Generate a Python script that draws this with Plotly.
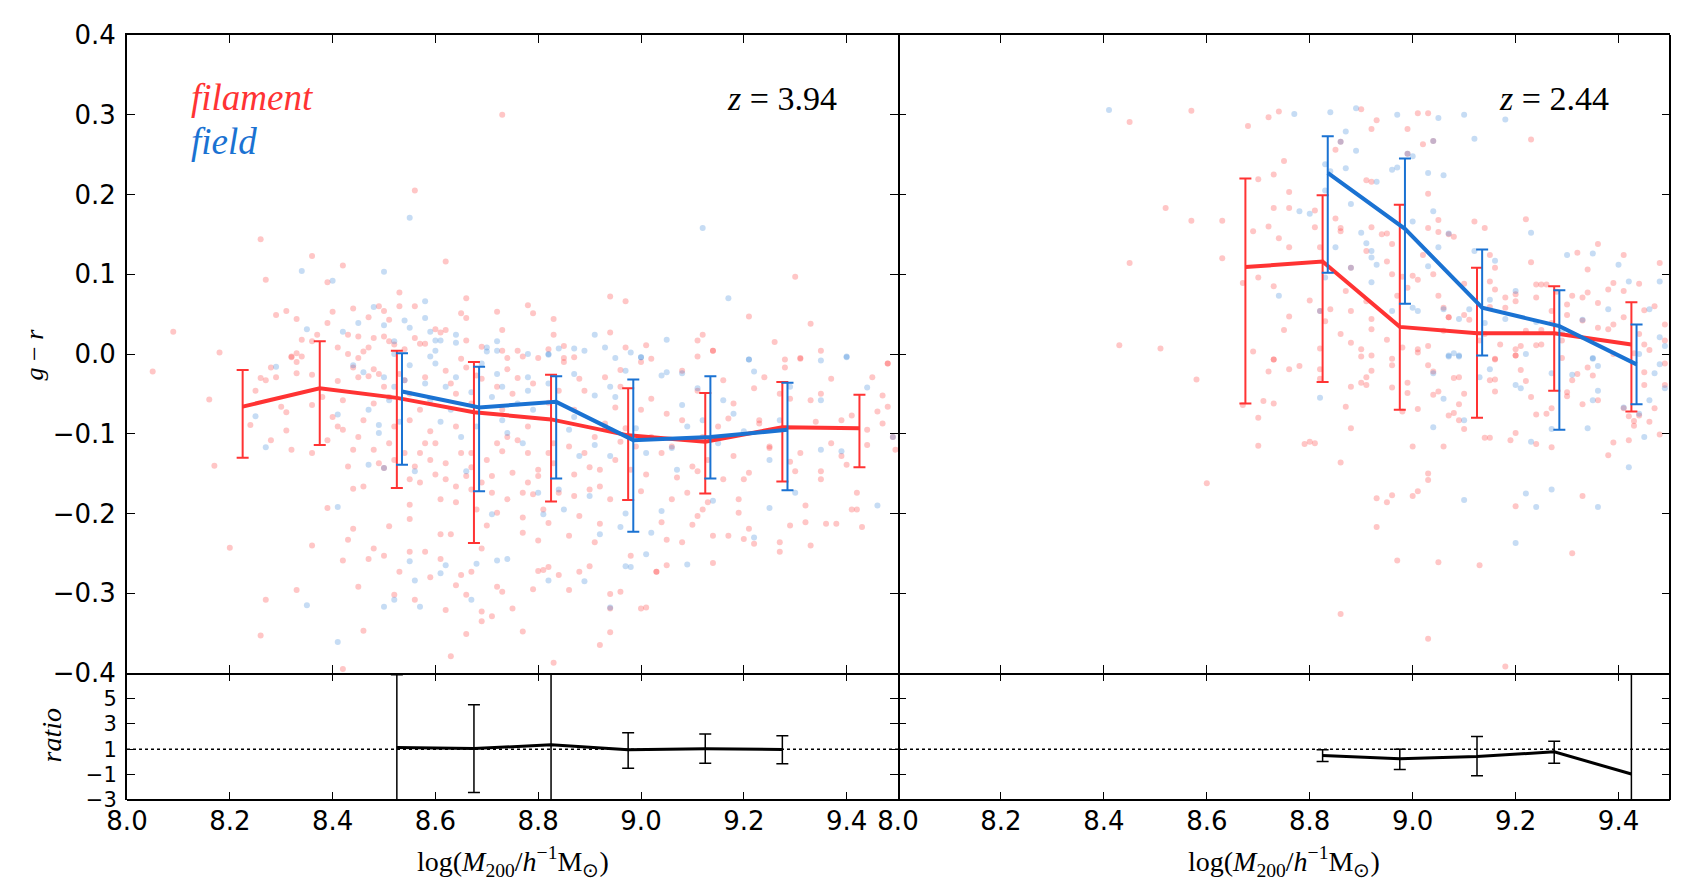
import plotly.graph_objects as go

# ---------------- binned statistics ----------------
mass_bins = [8.225, 8.375, 8.525, 8.675, 8.825, 8.975, 9.125, 9.275, 9.425]

# z = 3.94 (left)
fil394_mean = [-0.066, -0.043, -0.055, -0.073, -0.082, -0.102, -0.110, -0.092, -0.093]
fil394_hi = [-0.020, 0.016, 0.004, -0.010, -0.026, -0.043, -0.049, -0.035, -0.051]
fil394_lo = [-0.130, -0.114, -0.168, -0.237, -0.185, -0.183, -0.175, -0.160, -0.142]
fld394_bins = [8.535, 8.685, 8.835, 8.985, 9.135, 9.285]
fld394_mean = [-0.047, -0.067, -0.060, -0.108, -0.104, -0.095]
fld394_hi = [0.001, -0.016, -0.028, -0.032, -0.028, -0.036]
fld394_lo = [-0.139, -0.172, -0.156, -0.223, -0.156, -0.171]

# z = 2.44 (right)
fil244_bins = [8.675, 8.825, 8.975, 9.125, 9.275, 9.425]
fil244_mean = [0.109, 0.116, 0.034, 0.026, 0.026, 0.012]
fil244_hi = [0.220, 0.199, 0.187, 0.108, 0.085, 0.065]
fil244_lo = [-0.062, -0.035, -0.070, -0.080, -0.046, -0.072]
fld244_bins = [8.835, 8.985, 9.135, 9.285, 9.435]
fld244_mean = [0.227, 0.157, 0.058, 0.035, -0.013]
fld244_hi = [0.273, 0.245, 0.131, 0.080, 0.037]
fld244_lo = [0.102, 0.063, -0.002, -0.095, -0.063]

# ratio panels
ratio394_x = [8.525, 8.675, 8.825, 8.975, 9.125, 9.275]
ratio394 = [1.13, 1.05, 1.34, 0.95, 1.03, 0.98]
ratio394_hi = [6.87, 4.5, 40.0, 2.3, 2.2, 2.05]
ratio394_lo = [-40.0, -2.4, -40.0, -0.5, -0.1, -0.15]
ratio244_x = [8.825, 8.975, 9.125, 9.275, 9.425]
ratio244 = [0.50, 0.24, 0.42, 0.79, -0.95]
ratio244_hi = [0.95, 1.0, 2.0, 1.63, 40.0]
ratio244_lo = [0.04, -0.6, -1.1, -0.1, -40.0]

# ---------------- individual haloes ----------------
fil394_pts = [
(8.09,0.028),(8.18,0.002),(8.26,0.144),(8.27,0.093),(8.29,0.049),(8.31,0.054),(8.33,0.044),(8.36,0.123),
(8.39,0.090),(8.42,0.111),(8.40,0.053),(8.39,0.039),(8.34,0.018),(8.37,0.024),(8.36,0.016),(8.41,0.008),
(8.33,0.001),(8.32,-0.003),(8.44,0.057),(8.47,0.046),(8.49,0.060),(8.50,0.054),(8.51,0.043),(8.53,0.060),
(8.53,0.077),(8.56,0.060),(8.56,0.205),(8.62,0.116),(8.73,0.300),(8.66,0.070),(8.65,0.051),(8.66,0.045),
(8.72,0.053),(8.73,0.030),(8.78,0.061),(8.79,0.051),(8.83,0.044),(8.83,0.024),(8.94,0.072),(8.97,0.066),
(8.94,0.027),(8.97,0.008),(9.01,0.011),(9.02,-0.006),(9.11,0.017),(9.12,0.024),(9.14,0.004),(9.21,0.047),
(9.26,0.015),(9.30,0.097),(9.33,0.038),(9.35,0.004),(9.31,-0.005),(9.28,-0.007),(8.87,-0.004),(8.85,-0.005),
(8.82,0.006),(8.85,0.010),(8.80,-0.005),(8.77,-0.003),(8.76,0.004),(8.74,-0.005),(8.73,0.004),(8.69,0.009),
(8.66,0.017),(8.65,-0.006),(8.61,0.027),(8.60,0.031),(8.58,0.013),(8.56,0.020),(8.54,0.006),(8.52,0.012),
(8.50,0.022),(8.48,0.020),(8.47,0.008),(8.46,0.003),(8.45,-0.005),(8.43,0.024),(8.45,0.022),(8.51,0.016),
(8.57,0.013),(8.62,0.030),(9.11,-0.003),(9.48,-0.012),
(8.05,-0.022),(8.16,-0.057),(8.17,-0.140),(8.20,-0.243),(8.24,-0.089),(8.25,-0.046),(8.26,-0.030),
(8.28,-0.017),(8.28,-0.108),(8.27,-0.033),(8.29,-0.029),(8.30,-0.066),(8.31,-0.096),(8.32,-0.120),(8.31,-0.073),
(8.32,-0.004),(8.33,-0.010),(8.33,-0.024),(8.34,-0.003),(8.36,-0.026),(8.36,-0.064),(8.36,-0.124),(8.39,-0.193),
(8.36,-0.240),(8.33,-0.296),(8.27,-0.308),(8.26,-0.353),(8.41,-0.034),(8.42,-0.058),(8.42,-0.095),(8.43,0.000),
(8.44,-0.017),(8.45,-0.029),(8.44,-0.169),(8.46,-0.166),(8.47,-0.028),(8.48,-0.019),(8.48,-0.062),(8.49,-0.025),
(8.50,-0.041),(8.51,-0.054),(8.51,-0.216),(8.52,-0.091),(8.53,-0.025),(8.54,-0.033),(8.55,-0.050),(8.55,-0.083),
(8.55,-0.189),(8.55,-0.207),(8.55,-0.248),(8.57,-0.124),(8.57,-0.070),(8.58,-0.029),(8.59,-0.097),(8.60,-0.112),
(8.61,-0.226),(8.62,-0.137),(8.62,-0.021),(8.63,-0.037),(8.63,-0.226),(8.64,-0.050),(8.64,-0.091),(8.65,-0.124),
(8.66,-0.017),(8.67,-0.170),(8.67,-0.142),(8.67,-0.062),(8.68,-0.027),(8.69,-0.244),(8.69,-0.031),(8.70,-0.133),
(8.71,-0.174),(8.72,-0.112),(8.72,-0.041),(8.73,-0.070),(8.74,-0.182),(8.74,-0.019),(8.75,-0.050),(8.76,-0.030),
(8.77,-0.224),(8.77,-0.205),(8.78,-0.161),(8.78,-0.091),(8.79,-0.037),(8.80,-0.153),(8.80,-0.234),(8.81,-0.271),
(8.82,-0.061),(8.82,-0.124),(8.82,-0.212),(8.83,-0.387),(8.84,-0.046),(8.85,-0.010),(8.86,-0.116),(8.87,-0.070),
(8.87,-0.178),(8.88,-0.031),(8.89,-0.046),(8.90,-0.142),(8.91,-0.104),(8.92,-0.213),(8.92,-0.166),(8.93,-0.029),
(8.94,-0.301),(8.94,-0.349),(8.95,-0.067),(8.96,-0.041),(8.96,-0.020),(8.97,-0.093),(8.99,-0.116),(9.00,-0.010),
(9.01,-0.151),(9.02,-0.056),(9.03,-0.273),(9.04,-0.211),(9.05,-0.075),(9.05,-0.233),(9.06,-0.116),(9.08,-0.021),
(9.09,-0.174),(9.10,-0.214),(9.10,-0.141),(9.11,-0.046),(9.12,-0.104),(9.13,-0.186),(9.14,0.004),(9.14,-0.262),
(9.16,-0.033),(9.17,-0.081),(9.18,-0.062),(9.19,-0.199),(9.20,-0.157),(9.21,-0.219),(9.22,-0.043),(9.23,-0.083),
(9.24,-0.029),(9.25,-0.118),(9.27,-0.236),(9.28,-0.017),(9.29,-0.056),(9.31,-0.006),(9.31,-0.124),(9.32,-0.211),
(9.33,-0.240),(9.34,-0.085),(9.35,-0.147),(9.35,-0.050),(9.37,-0.112),(9.38,-0.213),(9.39,-0.083),(9.40,-0.139),
(9.41,-0.077),(9.42,-0.174),(9.43,-0.217),(9.44,-0.095),(9.45,-0.029),(9.47,-0.052),(9.47,-0.087),(9.48,-0.012),
(9.49,-0.104),(9.495,-0.120),(9.48,-0.066),(9.46,-0.072),(9.44,-0.114),(9.39,-0.128),(9.37,-0.031),(9.35,-0.157),
(9.33,-0.058),(9.32,-0.190),(9.30,-0.147),(9.29,-0.135),(9.27,-0.050),(9.25,-0.116),(9.23,-0.087),(9.21,-0.149),
(9.19,-0.182),(9.18,-0.128),(9.16,-0.157),(9.15,-0.091),(9.13,-0.133),(9.12,-0.195),(9.11,-0.147),(9.08,-0.083),
(9.07,-0.155),(9.06,-0.182),(9.04,-0.124),(9.02,-0.104),(9.00,-0.070),(9.00,-0.172),(8.98,-0.145),(8.96,-0.110),
(8.95,-0.133),(8.94,-0.182),(8.93,-0.087),(8.92,-0.145),(8.91,-0.236),(8.90,-0.170),(8.89,-0.124),(8.88,-0.203),
(8.87,-0.151),(8.86,-0.228),(8.84,-0.174),(8.83,-0.112),(8.83,-0.137),(8.81,-0.195),(8.80,-0.145),(8.79,-0.176),
(8.78,-0.124),(8.77,-0.174),(8.76,-0.108),(8.75,-0.149),(8.74,-0.104),(8.73,-0.122),(8.72,-0.199),(8.71,-0.153),
(8.70,-0.215),(8.69,-0.161),(8.68,-0.195),(8.67,-0.124),(8.66,-0.153),(8.64,-0.186),(8.64,-0.166),(8.62,-0.157),
(8.61,-0.182),(8.60,-0.151),(8.59,-0.133),(8.58,-0.112),(8.57,-0.161),(8.56,-0.141),(8.55,-0.157),(8.54,-0.124),
(8.52,-0.133),(8.51,-0.112),(8.50,-0.143),(8.49,-0.137),(8.48,-0.120),(8.46,-0.083),(8.45,-0.104),(8.44,-0.120),
(8.43,-0.141),(8.41,-0.091),(8.40,-0.079),(8.39,-0.108),(8.38,-0.054),(8.44,-0.219),(8.47,-0.257),(8.48,-0.244),
(8.50,-0.253),(8.52,-0.302),(8.53,-0.273),(8.56,-0.308),(8.58,-0.248),(8.59,-0.280),(8.61,-0.257),(8.62,-0.321),
(8.64,-0.290),(8.65,-0.277),(8.66,-0.302),(8.67,-0.273),(8.69,-0.323),(8.69,-0.335),(8.71,-0.329),(8.72,-0.292),
(8.73,-0.298),(8.75,-0.319),(8.77,-0.348),(8.79,-0.295),(8.80,-0.272),(8.82,-0.267),(8.84,-0.277),(8.86,-0.296),
(8.88,-0.273),(8.90,-0.266),(8.92,-0.365),(8.94,-0.319),(8.96,-0.298),(8.98,-0.253),(9.00,-0.319),(9.01,-0.318),
(9.03,-0.273),(9.05,-0.265),(9.08,-0.236),(9.11,-0.203),(9.14,-0.228),(9.17,-0.228),(9.20,-0.232),(9.22,-0.238),
(9.27,-0.248),(9.29,-0.215),(9.36,-0.213),(9.41,-0.195),(9.42,-0.195),(8.63,-0.379),(8.66,-0.351),(8.42,-0.395),
(8.46,-0.347),(8.45,-0.292),(8.42,-0.259),(8.43,-0.233),
]

fld394_pts = [
(8.34,0.104),(8.40,0.092),(8.50,0.103),(8.55,0.171),(9.12,0.158),(9.17,0.070),(8.58,0.066),(8.48,0.059),
(8.54,0.042),(8.58,0.045),(8.50,0.036),(8.55,0.033),(8.59,0.028),(8.64,0.024),(8.60,0.017),(8.61,0.017),
(8.45,0.039),(8.42,0.028),(8.35,0.031),(8.52,0.016),(8.52,0.000),(8.60,0.004),(8.59,-0.003),(8.64,0.014),
(8.72,0.016),(8.70,0.003),(8.72,0.004),(8.78,0.000),(8.82,-0.001),(8.84,0.007),(8.87,0.007),(8.89,0.004),
(8.91,0.024),(8.93,0.008),(8.95,-0.005),(8.98,0.002),(9.00,-0.004),(9.05,0.018),(9.21,-0.007),(9.35,-0.008),
(9.40,-0.004),(8.70,0.008),
(8.27,-0.117),(8.29,-0.016),(8.25,-0.078),(8.41,-0.076),(8.41,-0.192),(8.41,-0.361),(8.35,-0.315),(8.44,-0.014),
(8.46,-0.023),(8.47,-0.070),(8.47,-0.139),(8.49,-0.099),(8.49,-0.089),(8.50,-0.029),(8.51,-0.058),(8.50,-0.143),
(8.52,-0.041),(8.53,-0.085),(8.54,-0.033),(8.55,-0.014),(8.56,-0.147),(8.58,-0.037),(8.59,-0.058),(8.60,-0.012),
(8.61,-0.085),(8.62,-0.041),(8.63,-0.070),(8.64,-0.029),(8.65,-0.104),(8.66,-0.147),(8.67,-0.048),(8.68,-0.091),
(8.69,-0.012),(8.71,-0.054),(8.71,-0.201),(8.72,-0.025),(8.73,-0.083),(8.73,-0.041),(8.74,-0.099),(8.76,-0.062),
(8.77,-0.112),(8.78,-0.029),(8.78,-0.046),(8.79,-0.070),(8.80,-0.174),(8.81,-0.201),(8.82,0.000),(8.82,-0.037),
(8.84,-0.170),(8.85,-0.195),(8.86,-0.095),(8.87,-0.025),(8.88,-0.128),(8.90,-0.178),(8.91,-0.052),(8.92,-0.226),
(8.93,-0.091),(8.94,-0.041),(8.95,-0.054),(8.96,-0.217),(8.97,-0.200),(8.97,-0.021),(8.98,-0.267),(9.00,-0.004),
(9.01,-0.251),(9.01,-0.124),(9.02,-0.224),(9.04,-0.027),(9.04,-0.197),(9.05,-0.023),(9.06,-0.118),(9.08,-0.024),
(9.08,-0.064),(9.09,-0.264),(9.11,-0.043),(9.12,-0.083),(9.14,-0.184),(9.15,-0.112),(9.16,-0.058),(9.18,-0.075),
(9.21,-0.007),(9.22,-0.230),(9.22,-0.022),(9.25,-0.193),(9.25,-0.133),(9.27,-0.083),(9.29,-0.041),(9.30,-0.174),
(9.35,-0.058),(9.40,-0.003),(9.44,-0.042),(9.46,-0.190),(9.49,-0.104),(8.55,-0.260),(8.56,-0.284),(8.57,-0.317),
(8.52,-0.308),(8.50,-0.317),(8.61,-0.275),(8.62,-0.265),(8.67,-0.308),(8.68,-0.263),(8.72,-0.259),(8.74,-0.257),
(8.82,-0.284),(8.89,-0.285),(8.94,-0.318),(8.97,-0.266),(8.87,-0.079),(8.91,-0.114),(8.94,-0.128),(8.99,-0.093),
(9.07,-0.145),(9.09,-0.091),(9.20,-0.097),(9.35,-0.120),(9.39,-0.122),
]

fil244_pts = [
(8.45,0.291),(8.57,0.305),(8.68,0.286),(8.72,0.297),(8.74,0.304),(8.90,0.307),(8.93,0.293),(8.99,0.282),
(9.01,0.302),(9.03,0.302),(9.02,0.263),(9.04,0.267),(8.99,0.251),(8.92,0.282),(8.86,0.266),(8.85,0.256),
(8.75,0.242),(8.73,0.225),(8.70,0.219),(8.76,0.203),(8.73,0.183),(8.76,0.183),(8.72,0.160),(8.69,0.154),
(8.74,0.145),(8.76,0.134),(8.52,0.183),(8.57,0.167),(8.63,0.167),(8.63,0.120),(8.45,0.114),(8.43,0.011),
(8.51,0.007),(8.67,0.089),(8.70,0.096),(8.73,0.085),(8.80,0.067),(8.82,0.054),(8.81,0.159),(8.82,0.134),
(8.81,0.180),(8.85,0.170),(8.86,0.158),(8.86,0.154),(8.91,0.218),(8.92,0.216),(8.92,0.159),(8.94,0.150),
(8.95,0.151),(8.96,0.138),(8.91,0.129),(8.88,0.108),(8.95,0.116),(8.96,0.100),(8.98,0.097),(8.99,0.083),
(9.01,0.093),(9.03,0.201),(9.03,0.158),(9.05,0.168),(9.05,0.153),(9.07,0.150),(9.08,0.147),(9.02,0.124),
(9.00,0.098),(9.04,0.100),(9.05,0.073),(9.06,0.058),(9.07,0.046),(9.10,0.088),(9.11,0.043),(9.12,0.166),
(9.14,0.158),(9.15,0.124),(9.16,0.108),(9.15,0.091),(9.16,0.081),(9.18,0.071),(9.20,0.075),(9.22,0.169),
(9.23,0.269),(9.23,0.115),(9.24,0.087),(9.24,0.071),(9.25,0.087),(9.26,0.087),(9.28,0.078),(9.30,0.062),
(9.32,0.127),(9.34,0.106),(9.34,0.077),(9.36,0.138),(9.38,0.081),(9.39,0.089),(9.41,0.124),(9.41,0.079),
(9.44,0.088),(9.48,0.114),(9.47,0.060),(9.45,0.055),(9.41,0.046),(9.39,0.037),(9.36,0.064),(9.33,0.071),
(9.31,0.073),(9.30,0.049),(9.27,0.054),(9.25,0.030),(9.24,0.011),(9.21,0.010),(9.20,0.006),(9.17,0.012),
(9.14,0.025),(9.13,0.017),(9.10,0.049),(9.07,0.046),(9.06,0.029),(9.03,0.010),(9.01,0.006),(8.98,0.008),
(8.95,0.018),(8.92,0.031),(8.90,0.006),(8.88,0.014),(8.86,0.025),(8.84,0.056),(8.83,0.041),(8.82,0.007),
(8.76,0.047),(8.75,0.030),(8.87,0.079),(8.88,0.054),(8.91,0.066),(8.92,0.044),(8.97,0.073),(9.15,0.059),
(9.18,0.058),(9.20,0.066),(9.22,0.029),(9.27,0.039),(9.25,0.012),(9.29,0.017),(9.33,0.042),(9.36,0.033),
(9.38,0.031),(9.44,0.025),(9.45,0.012),(9.49,0.017),(9.49,0.037),(8.69,0.003),(8.73,-0.007),(8.92,-0.002),
(9.16,-0.006),(9.20,-0.002),(9.39,0.000),(9.43,0.001),(9.46,0.005),(8.96,-0.006),(9.01,0.002),
(8.58,-0.032),(8.60,-0.162),(8.67,-0.064),(8.70,-0.080),(8.70,-0.115),(8.71,-0.059),(8.72,-0.022),(8.73,-0.007),
(8.73,-0.062),(8.76,-0.019),(8.78,-0.015),(8.79,-0.113),(8.80,-0.110),(8.81,-0.112),(8.82,-0.031),(8.82,-0.019),
(8.86,-0.136),(8.87,-0.066),(8.86,-0.326),(8.88,-0.041),(8.88,-0.093),(8.90,-0.036),(8.90,-0.003),(8.91,-0.039),
(8.91,-0.029),(8.92,-0.021),(8.93,-0.181),(8.93,-0.217),(8.95,-0.186),(8.96,-0.177),(8.96,-0.014),(8.96,-0.042),
(8.97,-0.259),(8.98,-0.072),(8.99,-0.049),(8.99,-0.036),(9.00,-0.116),(9.00,-0.178),(9.01,-0.069),(9.01,-0.172),
(9.03,-0.357),(9.03,-0.150),(9.03,-0.158),(9.03,-0.014),(9.04,-0.022),(9.04,-0.051),(9.05,-0.047),(9.05,-0.261),
(9.06,-0.116),(9.07,-0.077),(9.08,-0.074),(9.08,-0.030),(9.09,-0.083),(9.09,-0.029),(9.09,-0.063),(9.10,-0.094),
(9.10,-0.050),(9.13,-0.265),(9.14,-0.105),(9.15,-0.105),(9.15,-0.033),(9.16,-0.047),(9.16,-0.032),(9.16,-0.007),
(9.18,-0.392),(9.19,-0.108),(9.20,-0.002),(9.20,-0.191),(9.20,-0.099),(9.21,-0.020),(9.22,-0.034),(9.23,-0.054),
(9.24,-0.076),(9.24,-0.113),(9.26,-0.075),(9.27,-0.117),(9.27,-0.068),(9.29,-0.005),(9.30,-0.048),(9.30,-0.053),
(9.31,-0.033),(9.31,-0.250),(9.32,-0.025),(9.33,-0.063),(9.33,-0.178),(9.34,-0.017),(9.35,-0.027),(9.36,-0.058),
(9.38,-0.127),(9.39,-0.111),(9.41,-0.068),(9.42,-0.078),(9.42,-0.108),(9.43,-0.084),(9.43,-0.090),(9.44,-0.077),
(9.45,-0.039),(9.45,-0.023),(9.46,-0.085),(9.47,-0.068),(9.48,-0.101),(9.49,-0.039),(9.49,-0.012),
]

fld244_pts = [
(8.41,0.306),(8.77,0.301),(8.84,0.303),(8.89,0.308),(8.97,0.300),(9.05,0.296),(9.10,0.300),(9.18,0.294),
(9.12,0.270),(9.04,0.267),(9.00,0.248),(8.99,0.251),(8.97,0.234),(8.96,0.231),(8.89,0.255),(8.87,0.279),
(8.86,0.266),(8.83,0.238),(8.84,0.229),(8.87,0.233),(9.03,0.227),(9.06,0.224),(8.93,0.216),(8.88,0.188),
(8.80,0.176),(8.78,0.179),(8.83,0.205),(8.85,0.134),(8.90,0.152),(8.91,0.139),(8.92,0.129),(8.92,0.121),
(8.93,0.112),(8.88,0.108),(9.00,0.166),(9.04,0.179),(9.03,0.110),(9.05,0.134),(9.07,0.151),(9.12,0.129),
(9.16,0.117),(9.15,0.068),(9.20,0.079),(9.23,0.152),(9.30,0.124),(9.35,0.126),(9.40,0.112),(9.38,0.056),
(9.33,0.043),(9.29,0.027),(9.24,0.040),(9.22,0.000),(9.18,0.044),(9.14,0.039),(9.11,0.056),(9.09,0.044),
(9.06,0.056),(9.01,0.054),(9.00,0.058),(8.96,0.054),(8.92,0.090),(8.82,0.054),(8.83,0.096),(8.74,0.073),
(9.08,0.001),(9.09,-0.002),(9.07,-0.002),(9.35,-0.005),(9.42,0.091),(9.46,0.056),(9.48,0.091),(9.49,0.010),
(9.48,0.021),
(8.82,-0.055),(9.04,-0.024),(9.06,-0.056),(9.04,-0.092),(9.07,-0.003),(9.09,-0.003),(9.10,-0.083),(9.10,-0.183),
(9.13,-0.029),(9.15,-0.019),(9.20,-0.039),(9.21,-0.043),(9.20,-0.237),(9.22,-0.175),(9.23,-0.110),(9.24,-0.192),
(9.27,-0.170),(9.27,-0.024),(9.27,-0.094),(9.31,-0.026),(9.34,-0.093),(9.35,-0.006),(9.35,-0.058),(9.36,-0.015),
(9.36,-0.046),(9.36,-0.192),(9.42,-0.142),(9.41,-0.067),(9.44,0.000),(9.44,-0.075),(9.45,-0.104),(9.46,-0.058),
(9.47,-0.024),(9.48,-0.013),(9.49,-0.043),
]

# ---------------- styling ----------------
RED = "#ff3333"
BLUE = "#1a72d2"
RED_PT = "rgba(255,51,51,0.28)"
BLUE_PT = "rgba(26,114,210,0.25)"
TICKFONT = dict(family="DejaVu Sans", size=26, color="black")
RATIOFONT = dict(family="DejaVu Sans", size=21, color="black")
SERIF = "Liberation Serif"
LW = 2

# page body has an 8px default margin: size the figure so the axes land on target pixels
OFF = 8
W, H = 1686 - OFF, 894 - OFF
ML = 127 - OFF
MT = 29 - OFF
MR = W - (1670 - OFF)
MB = H - (800 - OFF)
PW, PH = W - ML - MR, H - MT - MB
xsplit = (898 - 127) / PW
ysplit = 1 - (672 - 29) / PH


def py(orig_y):
    return 1 - (orig_y - 29) / PH


def px(orig_x):
    return (orig_x - 127) / PW


fig = go.Figure()


def pts_xy(pts):
    return [p[0] for p in pts], [p[1] for p in pts]


def add_panel(xa, ya, fil_pts, fld_pts, fx, fm, fhi, flo, bx, bm, bhi, blo):
    x, y = pts_xy(fil_pts)
    fig.add_trace(go.Scatter(x=x, y=y, mode="markers", xaxis=xa, yaxis=ya,
                             marker=dict(size=6, color=RED_PT, line=dict(width=0)), showlegend=False))
    x, y = pts_xy(fld_pts)
    fig.add_trace(go.Scatter(x=x, y=y, mode="markers", xaxis=xa, yaxis=ya,
                             marker=dict(size=6, color=BLUE_PT, line=dict(width=0)), showlegend=False))
    fig.add_trace(go.Scatter(
        x=fx, y=fm, mode="lines", xaxis=xa, yaxis=ya, line=dict(color=RED, width=4), showlegend=False,
        error_y=dict(type="data", symmetric=False,
                     array=[h - m for h, m in zip(fhi, fm)],
                     arrayminus=[m - l for m, l in zip(fm, flo)],
                     color=RED, thickness=2, width=6)))
    fig.add_trace(go.Scatter(
        x=bx, y=bm, mode="lines", xaxis=xa, yaxis=ya, line=dict(color=BLUE, width=4), showlegend=False,
        error_y=dict(type="data", symmetric=False,
                     array=[h - m for h, m in zip(bhi, bm)],
                     arrayminus=[m - l for m, l in zip(bm, blo)],
                     color=BLUE, thickness=2, width=6)))


add_panel("x", "y", fil394_pts, fld394_pts, mass_bins, fil394_mean, fil394_hi, fil394_lo,
          fld394_bins, fld394_mean, fld394_hi, fld394_lo)
add_panel("x2", "y2", fil244_pts, fld244_pts, fil244_bins, fil244_mean, fil244_hi, fil244_lo,
          fld244_bins, fld244_mean, fld244_hi, fld244_lo)


def add_ratio(xa, ya, rx, r, rhi, rlo):
    fig.add_trace(go.Scatter(
        x=rx, y=r, mode="lines", xaxis=xa, yaxis=ya, line=dict(color="black", width=3), showlegend=False,
        error_y=dict(type="data", symmetric=False,
                     array=[h - m for h, m in zip(rhi, r)],
                     arrayminus=[m - l for m, l in zip(r, rlo)],
                     color="black", thickness=1.5, width=6)))


add_ratio("x3", "y3", ratio394_x, ratio394, ratio394_hi, ratio394_lo)
add_ratio("x4", "y4", ratio244_x, ratio244, ratio244_hi, ratio244_lo)

for xr, yr in (("x3", "y3"), ("x4", "y4")):
    fig.add_shape(type="line", xref=f"{xr} domain", yref=yr, x0=0, x1=1, y0=1, y1=1,
                  line=dict(color="black", width=1.5, dash="dot"))

# frame edges not drawn by axis lines (avoid doubled spines between panels)
fig.add_shape(type="line", xref="x2 domain", yref="paper", x0=1, x1=1, y0=0, y1=1,
              line=dict(color="black", width=LW))
fig.add_shape(type="line", xref="paper", yref="y3 domain", x0=0, x1=1, y0=0, y1=0,
              line=dict(color="black", width=LW))

mass_ticks = [8.0, 8.2, 8.4, 8.6, 8.8, 9.0, 9.2, 9.4]
gr_ticks = [-0.4, -0.3, -0.2, -0.1, 0.0, 0.1, 0.2, 0.3, 0.4]
ratio_ticks = [-3, -1, 1, 3, 5]

common = dict(showline=True, linecolor="black", linewidth=LW, mirror="allticks", ticks="inside",
              ticklen=8, tickwidth=1.2, tickcolor="black", showgrid=False, zeroline=False,
              tickfont=TICKFONT)

xcommon = dict(common, range=[8.0, 9.5], tickvals=mass_ticks, tickformat=".1f")

fig.update_layout(
    width=W, height=H, plot_bgcolor="white", paper_bgcolor="white",
    margin=dict(l=ML, r=MR, t=MT, b=MB), showlegend=False,
    xaxis=dict(xcommon, domain=[0, xsplit], anchor="y", showticklabels=False),
    xaxis2=dict(xcommon, domain=[xsplit, 1], anchor="y2", showticklabels=False),
    xaxis3=dict(xcommon, domain=[0, xsplit], anchor="y3", matches="x", showline=False,
                ticklabelstandoff=3),
    xaxis4=dict(xcommon, domain=[xsplit, 1], anchor="y4", matches="x2", showline=False,
                ticklabelstandoff=3),
    yaxis=dict(common, domain=[ysplit, 1], anchor="x", range=[-0.4, 0.4], tickvals=gr_ticks,
               tickformat=".1f", ticklabelstandoff=4),
    yaxis2=dict(common, domain=[ysplit, 1], anchor="x2", range=[-0.4, 0.4], tickvals=gr_ticks,
                showticklabels=False, showline=False),
    yaxis3=dict(common, domain=[0, ysplit], anchor="x3", range=[-3, 7], tickvals=ratio_ticks,
                ticklabelstandoff=4, tickfont=RATIOFONT),
    yaxis4=dict(common, domain=[0, ysplit], anchor="x4", range=[-3, 7], tickvals=ratio_ticks,
                showticklabels=False, showline=False),
)

ann = []
ann.append(dict(text="<i>filament</i>", x=8.12, y=0.322, xref="x", yref="y", xanchor="left",
                yanchor="middle", showarrow=False, font=dict(family=SERIF, size=37, color=RED)))
ann.append(dict(text="<i>field</i>", x=8.12, y=0.266, xref="x", yref="y", xanchor="left",
                yanchor="middle", showarrow=False, font=dict(family=SERIF, size=37, color=BLUE)))
ann.append(dict(text="<i>z</i> = 3.94", x=9.385, y=0.321, xref="x", yref="y", xanchor="right",
                yanchor="middle", showarrow=False, font=dict(family=SERIF, size=34, color="black")))
ann.append(dict(text="<i>z</i> = 2.44", x=9.385, y=0.321, xref="x2", yref="y2", xanchor="right",
                yanchor="middle", showarrow=False, font=dict(family=SERIF, size=34, color="black")))
xlab = "log(<i>M</i><sub>200</sub>/<i>h</i><sup>−1</sup>M<sub>⊙</sub>)"
for xc in (xsplit / 2, (1 + xsplit) / 2):
    ann.append(dict(text=xlab, x=xc, y=py(862), xref="paper", yref="paper", xanchor="center",
                    yanchor="middle", showarrow=False, font=dict(family=SERIF, size=28, color="black")))
ann.append(dict(text="<i>g</i> − <i>r</i>", x=px(34), y=py(351), xref="paper",
                yref="paper", textangle=-90, showarrow=False, xanchor="center", yanchor="middle",
                font=dict(family=SERIF, size=26, color="black")))
ann.append(dict(text="<i>ratio</i>", x=px(52), y=py(735), xref="paper",
                yref="paper", textangle=-90, showarrow=False, xanchor="center", yanchor="middle",
                font=dict(family=SERIF, size=28, color="black")))
fig.update_layout(annotations=ann)

fig.write_html("out.html")
